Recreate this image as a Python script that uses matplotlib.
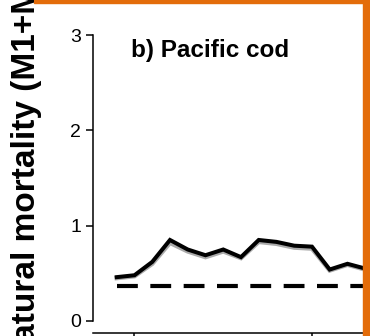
import numpy as np
import matplotlib.pyplot as plt
from matplotlib.patches import Rectangle

plt.rcParams['font.family'] = ['Liberation Sans', 'DejaVu Sans']

# Pacific cod natural mortality (M1+M2) by year
years = [1979, 1980, 1981, 1982, 1983, 1984, 1985, 1986,
         1987, 1988, 1989, 1990, 1991, 1992, 1993]
m_total = [0.46, 0.48, 0.62, 0.85, 0.75, 0.69, 0.75, 0.67,
           0.85, 0.83, 0.79, 0.78, 0.54, 0.60, 0.55]
m_alt = [0.45, 0.47, 0.60, 0.82, 0.73, 0.67, 0.73, 0.66,
         0.83, 0.81, 0.77, 0.76, 0.53, 0.59, 0.54]
m1_fixed = 0.37
y_ticks = [0, 1, 2, 3]
x_ticks = [1980, 1990]

W, H = 370, 336
fig = plt.figure(figsize=(W / 100, H / 100), dpi=100)
ax = fig.add_axes([93.5 / W, 3 / H, 1 - 93.5 / W, 1 - 3 / H])

ax.plot(years, m_alt, color='#aaaaaa', lw=3.2, solid_joinstyle='miter')
ax.plot(years, m_total, color='black', lw=2.9, solid_joinstyle='miter')
ax.plot(years, [m1_fixed] * len(years), color='black', lw=3,
        dashes=(5, 3), dash_capstyle='butt')

ax.set_ylim(-0.126, 3.368)
ax.set_xlim(1977.69, 1993.27)
ax.spines[['top', 'right']].set_visible(False)
ax.spines['left'].set_bounds(0, 3)
ax.spines['left'].set_linewidth(1.1)
ax.spines['bottom'].set_linewidth(1.1)
ax.set_yticks(y_ticks)
ax.set_xticks(x_ticks)
ax.set_xticklabels([])
ax.tick_params(axis='both', length=5, width=1.1, direction='out',
               labelsize=14, pad=4)

# panel title, placed in pixel coordinates
ax.text(131, H - 57, 'b) Pacific cod', transform=None, fontsize=17.5,
        fontweight='bold', ha='left', va='baseline')

fig.text(27 / W, 0.52, 'Natural mortality (M1+M2)', rotation=90,
         fontsize=24, fontweight='bold', ha='center', va='center')

# orange frame around the panel
orange = '#E36C0A'
fig.patches.append(Rectangle((34 / W, 1 - 3 / H), 1, 3 / H,
                             transform=fig.transFigure, color=orange))
fig.patches.append(Rectangle((363 / W, 0), 7 / W, 1,
                             transform=fig.transFigure, color=orange))

fig.savefig('out.png', dpi=100)
